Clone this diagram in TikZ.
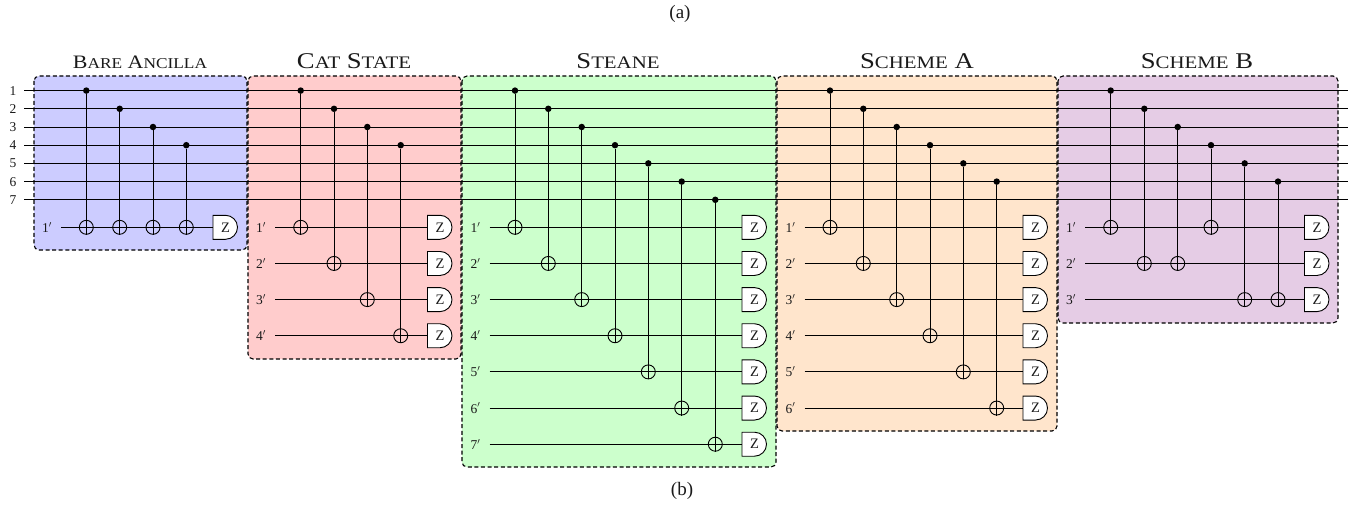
\documentclass[tikz,border=0pt]{standalone}
\usepackage{fontspec}
\setmainfont{Liberation Serif}
\definecolor{pblue}{HTML}{CCCCFF}
\definecolor{pred}{HTML}{FFCCCC}
\definecolor{pgreen}{HTML}{CCFFCC}
\definecolor{porange}{HTML}{FFE5CC}
\definecolor{ppurple}{HTML}{E5CCE5}
\definecolor{ink}{HTML}{1A1A1A}
\newcommand{\qy}[1]{(90.6+18.2*(#1-1))}
\newcommand{\ay}[1]{(227.3+36.15*(#1-1))}
\newcommand{\lo}[1]{{\fontsize{17.6}{20}\selectfont #1}}
\newcommand{\los}[1]{{\fontsize{15}{18}\selectfont #1}}
\newcommand{\ttl}[1]{\scalebox{1.185}[1]{\fontsize{22.5}{24}\selectfont #1}}
% #1 id, #2 wire start x, #3 measurement left x, #4 number of ancillas, #5 list control/x/target
\newcommand{\gadget}[5]{%
  \foreach \a in {1,...,#4}{%
    \pgfmathsetmacro{\yy}{\ay{\a}}
    \pgfmathsetmacro{\zx}{#3+12.5}
    \node[alabel] (#1l\a) at ({#2-14},\yy) {\a$'$};
    \draw[measshape] (#3,\yy-12) -- (#3+12.5,\yy-12) arc[start angle=-90,end angle=90,radius=12] -- (#3,\yy+12) -- cycle;
    \node[meas] (#1m\a) at (\zx,\yy) {Z};
    \draw[wire] (#1l\a.east) -- (#1m\a.west);
  }
  \foreach \k/\x/\t in {#5}{%
    \pgfmathsetmacro{\cy}{\qy{\k}}
    \pgfmathsetmacro{\ty}{\ay{\t}}
    \node[ctrl] (#1c\k) at (\x,\cy) {};
    \node[targ] (#1t\k) at (\x,\ty) {};
    \draw[wire] (#1c\k) -- (#1t\k.south);
  }
}
\tikzset{
  x=1pt,y=-1pt,
  wire/.style={line width=0.9pt,draw=black},
  panel/.style={draw=black,line width=1.1pt,dash pattern=on 4pt off 2.6pt,rounded corners=5pt},
  ctrl/.style={circle,fill=black,inner sep=0pt,minimum size=6.5pt},
  targ/.style={circle,draw=black,line width=0.9pt,inner sep=0pt,minimum size=14pt},
  meas/.style={inner sep=0pt,minimum width=25pt,minimum height=24pt,text=ink,font=\fontsize{14.5}{17}\selectfont},
  measshape/.style={draw=black,line width=0.9pt,fill=white},
  alabel/.style={inner sep=0pt,minimum width=28pt,text=ink,font=\fontsize{13.5}{15}\selectfont},
  qlabel/.style={inner sep=0pt,minimum width=22pt,text=ink,font=\fontsize{13.5}{15}\selectfont},
  title/.style={inner sep=0pt,text=ink},
  captext/.style={inner sep=0pt,text=ink,font=\fontsize{19}{22}\selectfont},
}
\begin{document}
\begin{tikzpicture}
\useasboundingbox (0,0) rectangle (1359,508);
\fill[white] (0,0) rectangle (1359,508);
\node[captext] (capa) at (680,14) {(a)};
\node[captext] (capb) at (682,491) {(b)};
\draw[panel,fill=pblue] (34,76) rectangle (247,250);
\draw[panel,fill=pred] (248,76) rectangle (461,359);
\draw[panel,fill=pgreen] (462,76) rectangle (776,467);
\draw[panel,fill=porange] (777,76) rectangle (1057,431);
\draw[panel,fill=ppurple] (1058,76) rectangle (1338,323);
\node[title] (t1) at (140,62) {\scalebox{1.155}[1]{\fontsize{19}{20}\selectfont B\los{ARE} A\los{NCILLA}}};
\node[title] (t2) at (354,61.5) {\ttl{C\lo{AT} S\lo{TATE}}};
\node[title] (t3) at (618,61.5) {\ttl{S\lo{TEANE}}};
\node[title] (t4) at (917,61.5) {\ttl{S\lo{CHEME} A}};
\node[title] (t5) at (1197,61.5) {\ttl{S\lo{CHEME} B}};
\foreach \q in {1,...,7}{%
  \pgfmathsetmacro{\yy}{\qy{\q}}
  \node[qlabel] (w\q) at (13,\yy) {\q};
  \coordinate (e\q) at (1348,\yy);
  \draw[wire] (w\q.east) -- (e\q);
}
\gadget{A}{61}{213}{1}{1/86.3/1,2/119.7/1,3/153/1,4/186.3/1}
\gadget{B}{275}{427.5}{4}{1/300.7/1,2/334/2,3/367.3/3,4/400.7/4}
\gadget{C}{489.5}{742}{7}{1/515/1,2/548.3/2,3/581.7/3,4/615/4,5/648.3/5,6/681.7/6,7/715.3/7}
\gadget{D}{804.5}{1023}{6}{1/830/1,2/863.3/2,3/896.7/3,4/930/4,5/963.3/5,6/996.7/6}
\gadget{E}{1085}{1304.5}{3}{1/1110.7/1,2/1144.3/2,3/1177.7/2,4/1211/1,5/1244.7/3,6/1278/3}
\end{tikzpicture}
\end{document}
